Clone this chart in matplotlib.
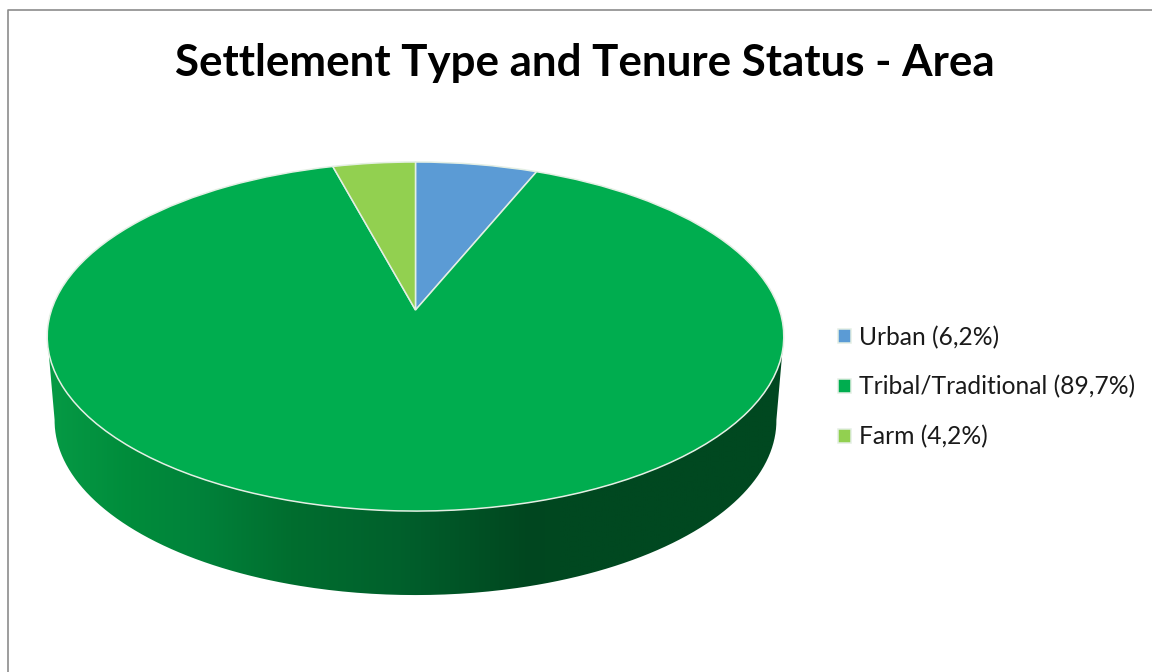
import numpy as np
import matplotlib
matplotlib.use("Agg")
import matplotlib.pyplot as plt
from matplotlib.colors import LinearSegmentedColormap
from matplotlib.path import Path
from matplotlib.patches import PathPatch
from matplotlib.transforms import Transform

title = "Settlement Type and Tenure Status - Area"
categories = ["Urban", "Tribal/Traditional", "Farm"]
shares = [6.2, 89.7, 4.2]
share_labels = ["6,2%", "89,7%", "4,2%"]
colors = ["#5B9BD5", "#00AD4F", "#92D050"]

# shading of the side wall, left to right (pixel x, colour)
wall_x = [47, 130, 200, 290, 400, 530, 560, 784]
wall_colors = ["#069A45", "#008C3B", "#00823A", "#006E2F", "#00602C", "#00461F", "#004820", "#004820"]

plt.rcParams["font.family"] = ["Lato", "DejaVu Sans"]

W, H = 1152, 672
CX, CY = 415.5, 310
RX, RY, K = 364, 170.5, 0.152
DEPTH = 84
SHRINK = 0.98


class Tilt(Transform):
    """unit disc -> tilted disc in pixel coords (far side is smaller)"""
    input_dims = 2
    output_dims = 2
    is_separable = False

    def transform_non_affine(self, xy):
        xy = np.asarray(xy, dtype=float)
        w = 1 + K * xy[:, 1]
        return np.column_stack([CX + RX * xy[:, 0] / w, CY - RY * xy[:, 1] / w])

    def transform_path_non_affine(self, path):
        return Path(self.transform_non_affine(path.vertices), path.codes)


tilt = Tilt()

fig = plt.figure(figsize=(W / 100, H / 100), dpi=100)
ax = fig.add_axes([0, 0, 1, 1])

labels = ["%s (%s)" % (c, s) for c, s in zip(categories, share_labels)]
wedges, _ = ax.pie(shares, colors=colors, startangle=90, counterclock=False,
                   wedgeprops={"edgecolor": "#E4EFE4", "linewidth": 1.1})
for w in wedges:
    w.set_transform(tilt + ax.transData)
    w.set_zorder(3)

# side wall: front of the rim plus the same rim moved down
theta = np.linspace(0, 2 * np.pi, 721)
rim = tilt.transform_non_affine(np.column_stack([np.cos(theta), np.sin(theta)]))
left = rim[:, 0].argmin()
right = rim[:, 0].argmax()
front = rim[left:right + 1]
lower = front[::-1].copy()
lower[:, 0] = CX + (lower[:, 0] - CX) * SHRINK
lower[:, 1] += DEPTH
wall = PathPatch(Path(np.vstack([front, lower, front[:1]])), transform=ax.transData,
                 facecolor="none", edgecolor="none")
ax.add_patch(wall)

stops = (np.array(wall_x) - wall_x[0]) / (wall_x[-1] - wall_x[0])
cmap = LinearSegmentedColormap.from_list("wall", list(zip(stops, wall_colors)))
im = ax.imshow(np.linspace(0, 1, 512)[None, :], cmap=cmap, aspect="auto",
               extent=(wall_x[0], wall_x[-1], 620, 300), zorder=2, interpolation="bilinear")
im.set_clip_path(wall)

# chart frame
ax.plot([8, 8, W], [H, 9.5, 9.5], color="#8C8C8C", lw=1.2, zorder=1)

ax.text(585, 63, title, ha="center", va="center", fontsize=31.6, fontweight="bold", color="black")

leg = ax.legend(wedges, labels, loc="center left", bbox_to_anchor=(816 / W, 1 - 387 / H),
                frameon=False, fontsize=17.7, labelspacing=1.08, handlelength=0.51,
                handleheight=0.51, handletextpad=0.33, labelcolor="#1A1A1A")

ax.set_xlim(0, W)
ax.set_ylim(H, 0)
ax.set_aspect("auto")
ax.axis("off")

fig.savefig("out.png", dpi=100, facecolor="white")
